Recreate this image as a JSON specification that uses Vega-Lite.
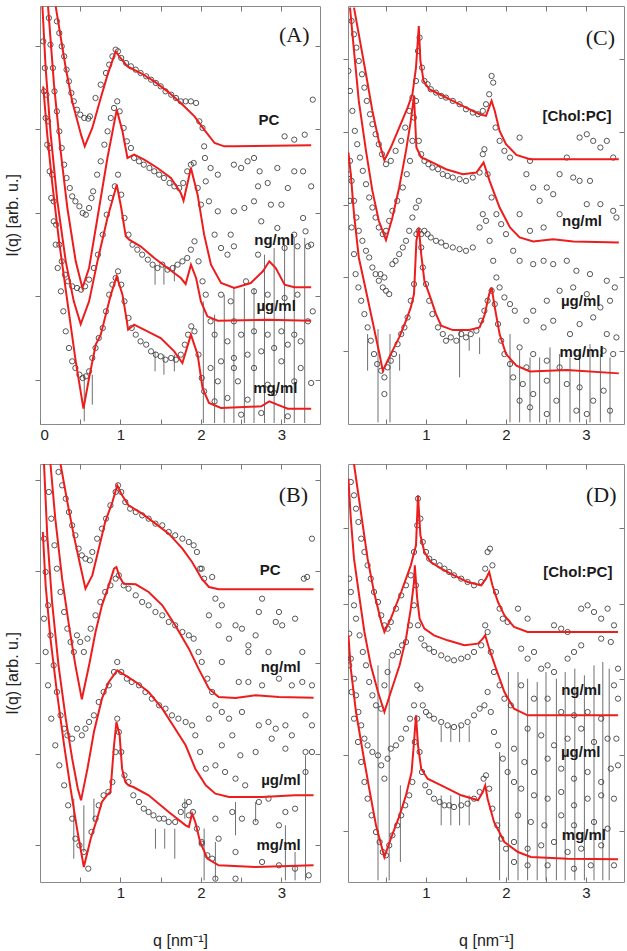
{
  "$schema": "https://vega.github.io/schema/vega-lite/v6.json",
  "padding": {"left": 4, "top": 5, "right": 0, "bottom": 0},
  "background": "white",
  "config": {
    "view": {"stroke": "#8a8a8a", "strokeWidth": 1},
    "axis": {
      "grid": false, "domain": false, "tickColor": "#777777", "tickWidth": 1,
      "labelFont": "Liberation Sans", "labelFontSize": 15, "labelColor": "#222222",
      "titleFont": "Liberation Sans", "titleFontSize": 16, "titleFontWeight": "normal", "titleColor": "#222222"
    }
  },
  "datasets": {
    "fitA": [
      {"c":"PC","q":0.195,"I":12.53},{"c":"PC","q":0.32,"I":10.68},{"c":"PC","q":0.40,"I":9.68},{"c":"PC","q":0.51,"I":8.68},{"c":"PC","q":0.556,"I":8.33},{"c":"PC","q":0.65,"I":8.88},{"c":"PC","q":0.755,"I":9.78},{"c":"PC","q":0.84,"I":10.48},{"c":"PC","q":0.94,"I":11.18},{"c":"PC","q":1.00,"I":10.98},{"c":"PC","q":1.087,"I":10.73},{"c":"PC","q":1.25,"I":10.53},{"c":"PC","q":1.42,"I":10.28},{"c":"PC","q":1.585,"I":9.98},{"c":"PC","q":1.75,"I":9.63},{"c":"PC","q":1.92,"I":9.23},{"c":"PC","q":2.04,"I":8.83},{"c":"PC","q":2.17,"I":8.43},{"c":"PC","q":2.29,"I":8.33},{"c":"PC","q":2.41,"I":8.33},{"c":"PC","q":3.37,"I":8.36},
      {"c":"ng","q":0.10,"I":12.53},{"c":"ng","q":0.174,"I":10.18},{"c":"ng","q":0.257,"I":8.18},{"c":"ng","q":0.34,"I":6.48},{"c":"ng","q":0.444,"I":4.88},{"c":"ng","q":0.527,"I":4.08},{"c":"ng","q":0.61,"I":4.68},{"c":"ng","q":0.714,"I":6.18},{"c":"ng","q":0.838,"I":7.98},{"c":"ng","q":0.954,"I":9.43},{"c":"ng","q":1.025,"I":8.78},{"c":"ng","q":1.087,"I":7.98},{"c":"ng","q":1.17,"I":8.08},{"c":"ng","q":1.295,"I":7.93},{"c":"ng","q":1.46,"I":7.68},{"c":"ng","q":1.627,"I":7.38},{"c":"ng","q":1.75,"I":6.93},{"c":"ng","q":1.784,"I":6.70},{"c":"ng","q":1.876,"I":7.68},{"c":"ng","q":1.959,"I":6.88},{"c":"ng","q":2.04,"I":5.68},{"c":"ng","q":2.125,"I":4.78},{"c":"ng","q":2.25,"I":4.23},{"c":"ng","q":2.415,"I":4.08},{"c":"ng","q":2.62,"I":4.23},{"c":"ng","q":2.77,"I":4.58},{"c":"ng","q":2.85,"I":4.88},{"c":"ng","q":2.93,"I":4.68},{"c":"ng","q":3.04,"I":4.18},{"c":"ng","q":3.16,"I":4.10},{"c":"ng","q":3.37,"I":4.10},
      {"c":"ug","q":0.03,"I":12.53},{"c":"ug","q":0.07,"I":10.68},{"c":"ug","q":0.133,"I":8.68},{"c":"ug","q":0.216,"I":6.68},{"c":"ug","q":0.32,"I":4.88},{"c":"ug","q":0.42,"I":3.68},{"c":"ug","q":0.506,"I":3.00},{"c":"ug","q":0.61,"I":3.68},{"c":"ug","q":0.714,"I":4.88},{"c":"ug","q":0.838,"I":6.18},{"c":"ug","q":0.954,"I":7.18},{"c":"ug","q":1.01,"I":6.48},{"c":"ug","q":1.066,"I":5.63},{"c":"ug","q":1.108,"I":5.53},{"c":"ug","q":1.25,"I":5.33},{"c":"ug","q":1.42,"I":4.98},{"c":"ug","q":1.585,"I":4.68},{"c":"ug","q":1.75,"I":4.38},{"c":"ug","q":1.81,"I":4.20},{"c":"ug","q":1.876,"I":4.78},{"c":"ug","q":1.94,"I":4.38},{"c":"ug","q":2.0,"I":3.68},{"c":"ug","q":2.08,"I":3.23},{"c":"ug","q":2.21,"I":3.10},{"c":"ug","q":2.83,"I":3.13},{"c":"ug","q":3.37,"I":3.10},
      {"c":"mg","q":0.04,"I":10.13},{"c":"mg","q":0.09,"I":8.68},{"c":"mg","q":0.154,"I":7.18},{"c":"mg","q":0.237,"I":5.48},{"c":"mg","q":0.34,"I":3.68},{"c":"mg","q":0.444,"I":1.88},{"c":"mg","q":0.54,"I":0.46},{"c":"mg","q":0.61,"I":1.38},{"c":"mg","q":0.693,"I":2.38},{"c":"mg","q":0.755,"I":2.68},{"c":"mg","q":0.88,"I":3.88},{"c":"mg","q":0.954,"I":4.43},{"c":"mg","q":1.025,"I":3.88},{"c":"mg","q":1.08,"I":3.08},{"c":"mg","q":1.095,"I":2.83},{"c":"mg","q":1.17,"I":2.98},{"c":"mg","q":1.336,"I":2.78},{"c":"mg","q":1.50,"I":2.58},{"c":"mg","q":1.668,"I":2.18},{"c":"mg","q":1.77,"I":1.83},{"c":"mg","q":1.876,"I":2.68},{"c":"mg","q":1.959,"I":2.08},{"c":"mg","q":2.02,"I":1.08},{"c":"mg","q":2.10,"I":0.63},{"c":"mg","q":2.25,"I":0.48},{"c":"mg","q":2.75,"I":0.53},{"c":"mg","q":2.85,"I":0.68},{"c":"mg","q":2.95,"I":0.58},{"c":"mg","q":3.08,"I":0.46},{"c":"mg","q":3.37,"I":0.46}
    ],
    "ptsA": [
      {"q":0.21,"I":12.08},{"q":0.24,"I":11.73},{"q":0.27,"I":11.33},{"q":0.30,"I":11.03},{"q":0.33,"I":10.63},{"q":0.36,"I":10.28},{"q":0.39,"I":9.93},{"q":0.42,"I":9.68},{"q":0.46,"I":9.43},{"q":0.50,"I":9.28},{"q":0.55,"I":9.18},{"q":0.60,"I":9.16},{"q":0.62,"I":9.23},{"q":0.69,"I":9.78},{"q":0.755,"I":10.18},{"q":0.82,"I":10.53},{"q":0.86,"I":10.78},{"q":0.90,"I":11.03},{"q":0.94,"I":11.23},{"q":0.97,"I":11.18},{"q":1.01,"I":10.98},{"q":1.07,"I":10.83},{"q":1.13,"I":10.73},{"q":1.19,"I":10.63},{"q":1.25,"I":10.53},{"q":1.32,"I":10.43},{"q":1.38,"I":10.33},{"q":1.44,"I":10.23},{"q":1.50,"I":10.13},{"q":1.56,"I":9.98},{"q":1.63,"I":9.88},{"q":1.69,"I":9.78},{"q":1.75,"I":9.68},{"q":1.81,"I":9.68},{"q":1.875,"I":9.68},{"q":1.94,"I":9.63},{"q":1.98,"I":9.08},{"q":2.02,"I":8.88},{"q":2.04,"I":8.33},
      {"q":0.11,"I":12.18},{"q":0.13,"I":11.38},{"q":0.16,"I":10.68},{"q":0.18,"I":9.98},{"q":0.21,"I":9.38},{"q":0.24,"I":8.78},{"q":0.27,"I":8.28},{"q":0.30,"I":7.78},{"q":0.33,"I":7.38},{"q":0.37,"I":7.08},{"q":0.40,"I":6.83},{"q":0.44,"I":6.68},{"q":0.49,"I":6.53},{"q":0.53,"I":6.33},{"q":0.57,"I":6.28},{"q":0.61,"I":6.48},{"q":0.64,"I":6.78},{"q":0.66,"I":6.98},{"q":0.71,"I":7.48},{"q":0.755,"I":7.88},{"q":0.80,"I":8.38},{"q":0.84,"I":8.78},{"q":0.88,"I":9.18},{"q":0.92,"I":9.48},{"q":0.96,"I":9.68},{"q":0.99,"I":9.38},{"q":1.04,"I":8.88},{"q":1.08,"I":8.48},{"q":1.13,"I":8.28},{"q":1.17,"I":7.98},{"q":1.23,"I":7.88},{"q":1.29,"I":7.78},{"q":1.36,"I":7.68},{"q":1.42,"I":7.58},{"q":1.48,"I":7.48},{"q":1.54,"I":7.38},{"q":1.61,"I":7.23},{"q":1.67,"I":7.13},{"q":1.73,"I":7.08},{"q":1.78,"I":7.23},{"q":1.83,"I":7.58},{"q":1.875,"I":7.78},{"q":1.91,"I":7.83},{"q":1.96,"I":7.08},{"q":2.00,"I":6.58},
      {"q":0.04,"I":11.48},{"q":0.06,"I":10.68},{"q":0.08,"I":9.88},{"q":0.10,"I":9.08},{"q":0.12,"I":8.28},{"q":0.15,"I":7.48},{"q":0.17,"I":6.68},{"q":0.20,"I":5.98},{"q":0.24,"I":5.38},{"q":0.27,"I":4.88},{"q":0.31,"I":4.48},{"q":0.35,"I":4.28},{"q":0.40,"I":4.13},{"q":0.46,"I":4.08},{"q":0.51,"I":4.03},{"q":0.56,"I":4.13},{"q":0.61,"I":4.33},{"q":0.67,"I":4.68},{"q":0.72,"I":5.08},{"q":0.78,"I":5.68},{"q":0.83,"I":6.28},{"q":0.88,"I":6.78},{"q":0.93,"I":7.13},{"q":0.97,"I":7.48},{"q":1.01,"I":6.88},{"q":1.05,"I":6.18},{"q":1.10,"I":5.68},{"q":1.15,"I":5.38},{"q":1.21,"I":5.23},{"q":1.27,"I":5.08},{"q":1.34,"I":4.93},{"q":1.40,"I":4.78},{"q":1.46,"I":4.68},{"q":1.52,"I":4.78},{"q":1.585,"I":4.63},{"q":1.65,"I":4.68},{"q":1.71,"I":4.78},{"q":1.77,"I":4.88},{"q":1.83,"I":4.98},{"q":1.875,"I":5.23},{"q":1.92,"I":5.48},{"q":1.97,"I":4.88},{"q":2.02,"I":4.28},{"q":2.06,"I":3.88},
      {"q":0.05,"I":9.98},{"q":0.07,"I":9.18},{"q":0.09,"I":8.38},{"q":0.12,"I":7.58},{"q":0.14,"I":6.78},{"q":0.17,"I":6.08},{"q":0.195,"I":5.38},{"q":0.22,"I":4.68},{"q":0.26,"I":3.98},{"q":0.29,"I":3.38},{"q":0.32,"I":2.78},{"q":0.36,"I":2.28},{"q":0.40,"I":1.88},{"q":0.44,"I":1.68},{"q":0.49,"I":1.48},{"q":0.53,"I":1.38},{"q":0.57,"I":1.43},{"q":0.61,"I":1.58},{"q":0.65,"I":1.98},{"q":0.69,"I":2.28},{"q":0.73,"I":2.58},{"q":0.78,"I":2.88},{"q":0.82,"I":3.38},{"q":0.86,"I":3.88},{"q":0.90,"I":4.18},{"q":0.94,"I":4.38},{"q":0.97,"I":4.58},{"q":1.01,"I":4.18},{"q":1.05,"I":3.68},{"q":1.10,"I":3.18},{"q":1.14,"I":2.88},{"q":1.19,"I":2.68},{"q":1.25,"I":2.48},{"q":1.32,"I":2.38},{"q":1.38,"I":2.18},{"q":1.44,"I":2.08},{"q":1.50,"I":2.03},{"q":1.56,"I":1.93},{"q":1.63,"I":1.98},{"q":1.69,"I":1.93},{"q":1.75,"I":2.08},{"q":1.80,"I":2.38},{"q":1.84,"I":2.68},{"q":1.88,"I":2.93},{"q":1.92,"I":2.78},{"q":1.97,"I":2.08},{"q":2.01,"I":1.38},{"q":2.04,"I":0.98},
      {"q":2.05,"I":7.98},{"q":2.12,"I":7.68},{"q":2.06,"I":7.28},{"q":2.10,"I":6.68},{"q":2.21,"I":6.38},{"q":2.17,"I":5.68},{"q":2.25,"I":5.28},{"q":2.33,"I":5.08},{"q":2.41,"I":5.33},{"q":2.37,"I":5.68},{"q":2.21,"I":7.48},{"q":2.41,"I":7.78},{"q":2.50,"I":7.68},{"q":2.58,"I":7.88},{"q":2.66,"I":7.98},{"q":2.73,"I":7.58},{"q":2.71,"I":7.13},{"q":2.83,"I":7.23},{"q":2.95,"I":7.68},{"q":3.04,"I":8.63},{"q":3.16,"I":8.53},{"q":3.29,"I":8.68},{"q":3.39,"I":9.73},{"q":3.16,"I":7.58},{"q":3.27,"I":7.58},{"q":3.37,"I":7.13},{"q":3.08,"I":7.08},{"q":3.00,"I":6.58},{"q":2.87,"I":6.58},{"q":2.66,"I":6.68},{"q":2.54,"I":6.48},{"q":2.41,"I":6.38},{"q":2.75,"I":6.08},{"q":2.95,"I":5.88},{"q":3.27,"I":6.18},{"q":3.16,"I":5.68},{"q":3.30,"I":5.78},{"q":3.37,"I":5.38},{"q":2.71,"I":5.08},{"q":3.04,"I":5.28},{"q":3.20,"I":5.33},{"q":3.33,"I":5.33},{"q":2.56,"I":4.28},{"q":2.66,"I":3.98},{"q":2.83,"I":3.88},{"q":3.04,"I":3.78},{"q":3.20,"I":3.88},{"q":2.25,"I":3.88},{"q":2.37,"I":3.68},{"q":2.41,"I":3.08},{"q":2.12,"I":3.08},{"q":2.17,"I":2.68},{"q":2.33,"I":2.48},{"q":2.50,"I":2.68},{"q":2.66,"I":2.78},{"q":2.83,"I":2.68},{"q":3.00,"I":2.78},{"q":3.16,"I":2.68},{"q":3.33,"I":3.08},{"q":3.39,"I":3.38},{"q":3.24,"I":2.48},{"q":3.08,"I":2.38},{"q":2.91,"I":2.28},{"q":2.75,"I":2.18},{"q":2.58,"I":2.08},{"q":2.41,"I":1.98},{"q":2.25,"I":1.88},{"q":2.12,"I":1.68},{"q":2.41,"I":1.68},{"q":2.66,"I":1.68},{"q":3.00,"I":1.88},{"q":3.24,"I":1.68},{"q":2.21,"I":1.28},{"q":2.46,"I":1.28},{"q":2.83,"I":1.18},{"q":3.16,"I":1.28},{"q":3.37,"I":1.23},{"q":2.33,"I":0.78},{"q":2.58,"I":0.73},{"q":2.91,"I":0.93},{"q":2.50,"I":0.28},{"q":2.75,"I":0.33},{"q":3.08,"I":0.23},{"q":2.17,"I":0.68}
    ],
    "errA": [
      {"q":0.55,"lo":0.08,"hi":1.48},{"q":0.65,"lo":0.58,"hi":1.48},{"q":1.43,"lo":4.18,"hi":4.78},{"q":1.54,"lo":4.18,"hi":4.78},{"q":1.67,"lo":4.28,"hi":4.78},{"q":1.43,"lo":1.58,"hi":2.18},{"q":1.54,"lo":1.48,"hi":2.08},{"q":1.67,"lo":1.58,"hi":2.08},
      {"q":2.03,"lo":0.03,"hi":3.68},{"q":2.17,"lo":0.03,"hi":3.28},{"q":2.29,"lo":0.03,"hi":3.88},{"q":2.41,"lo":0.03,"hi":4.08},{"q":2.54,"lo":0.03,"hi":4.08},{"q":2.66,"lo":0.03,"hi":4.08},{"q":2.79,"lo":0.03,"hi":5.08},{"q":2.91,"lo":0.03,"hi":5.28},{"q":3.04,"lo":0.03,"hi":5.38},{"q":3.16,"lo":0.03,"hi":5.58},{"q":3.29,"lo":0.03,"hi":5.58}
    ],
    "labA": [
      {"q":2.975,"I":9.13,"t":"PC"},{"q":3.16,"I":5.53,"t":"ng/ml"},{"q":3.18,"I":3.53,"t":"µg/ml"},{"q":3.20,"I":1.08,"t":"mg/ml"}
    ],
    "fitC": [
      {"c":"T","q":0.10,"I":12.50},{"c":"T","q":0.16,"I":11.70},{"c":"T","q":0.25,"I":10.50},{"c":"T","q":0.33,"I":9.40},{"c":"T","q":0.41,"I":8.50},{"c":"T","q":0.48,"I":7.92},{"c":"T","q":0.56,"I":8.30},{"c":"T","q":0.665,"I":8.90},{"c":"T","q":0.77,"I":9.50},{"c":"T","q":0.83,"I":9.90},{"c":"T","q":0.875,"I":10.70},{"c":"T","q":0.91,"I":11.95},{"c":"T","q":0.93,"I":10.90},{"c":"T","q":0.97,"I":10.30},{"c":"T","q":1.04,"I":10.05},{"c":"T","q":1.17,"I":9.90},{"c":"T","q":1.335,"I":9.70},{"c":"T","q":1.50,"I":9.50},{"c":"T","q":1.67,"I":9.30},{"c":"T","q":1.75,"I":9.25},{"c":"T","q":1.82,"I":9.70},{"c":"T","q":1.86,"I":9.40},{"c":"T","q":1.92,"I":8.80},{"c":"T","q":2.00,"I":8.40},{"c":"T","q":2.13,"I":8.08},{"c":"T","q":2.30,"I":7.95},{"c":"T","q":3.41,"I":7.95},
      {"c":"ng","q":0.05,"I":12.50},{"c":"ng","q":0.10,"I":11.20},{"c":"ng","q":0.16,"I":9.70},{"c":"ng","q":0.25,"I":8.20},{"c":"ng","q":0.33,"I":7.00},{"c":"ng","q":0.41,"I":6.10},{"c":"ng","q":0.50,"I":5.52},{"c":"ng","q":0.58,"I":6.20},{"c":"ng","q":0.665,"I":7.10},{"c":"ng","q":0.75,"I":8.20},{"c":"ng","q":0.81,"I":9.10},{"c":"ng","q":0.85,"I":9.85},{"c":"ng","q":0.88,"I":8.30},{"c":"ng","q":0.94,"I":8.00},{"c":"ng","q":1.04,"I":7.90},{"c":"ng","q":1.25,"I":7.65},{"c":"ng","q":1.46,"I":7.50},{"c":"ng","q":1.63,"I":7.55},{"c":"ng","q":1.72,"I":7.85},{"c":"ng","q":1.795,"I":7.30},{"c":"ng","q":1.92,"I":6.50},{"c":"ng","q":2.05,"I":5.90},{"c":"ng","q":2.17,"I":5.60},{"c":"ng","q":2.34,"I":5.48},{"c":"ng","q":2.59,"I":5.55},{"c":"ng","q":2.84,"I":5.48},{"c":"ng","q":3.41,"I":5.45},
      {"c":"mg","q":0.03,"I":8.15},{"c":"mg","q":0.06,"I":7.50},{"c":"mg","q":0.10,"I":6.30},{"c":"mg","q":0.16,"I":5.00},{"c":"mg","q":0.25,"I":4.00},{"c":"mg","q":0.33,"I":3.10},{"c":"mg","q":0.41,"I":2.20},{"c":"mg","q":0.46,"I":1.60},{"c":"mg","q":0.54,"I":2.00},{"c":"mg","q":0.665,"I":2.60},{"c":"mg","q":0.75,"I":3.10},{"c":"mg","q":0.81,"I":3.50},{"c":"mg","q":0.85,"I":3.90},{"c":"mg","q":0.88,"I":5.50},{"c":"mg","q":0.91,"I":5.90},{"c":"mg","q":0.94,"I":5.10},{"c":"mg","q":0.98,"I":4.30},{"c":"mg","q":1.04,"I":3.90},{"c":"mg","q":1.125,"I":3.30},{"c":"mg","q":1.19,"I":2.95},{"c":"mg","q":1.335,"I":2.82},{"c":"mg","q":1.54,"I":2.82},{"c":"mg","q":1.67,"I":2.90},{"c":"mg","q":1.73,"I":3.25},{"c":"mg","q":1.79,"I":3.90},{"c":"mg","q":1.82,"I":4.10},{"c":"mg","q":1.86,"I":3.50},{"c":"mg","q":1.92,"I":2.70},{"c":"mg","q":2.00,"I":2.10},{"c":"mg","q":2.13,"I":1.75},{"c":"mg","q":2.30,"I":1.58},{"c":"mg","q":2.76,"I":1.62},{"c":"mg","q":3.41,"I":1.52}
    ],
    "ptsC": [
      {"q":0.07,"I":12.10},{"q":0.10,"I":11.70},{"q":0.13,"I":11.30},{"q":0.16,"I":10.90},{"q":0.20,"I":10.50},{"q":0.23,"I":10.10},{"q":0.26,"I":9.70},{"q":0.30,"I":9.30},{"q":0.33,"I":9.00},{"q":0.37,"I":8.70},{"q":0.41,"I":8.40},{"q":0.45,"I":8.10},{"q":0.50,"I":7.80},{"q":0.56,"I":7.90},{"q":0.62,"I":8.20},{"q":0.69,"I":8.50},{"q":0.74,"I":8.90},{"q":0.79,"I":9.40},{"q":0.83,"I":9.80},{"q":0.875,"I":10.30},{"q":0.90,"I":11.20},{"q":0.92,"I":11.60},{"q":0.95,"I":10.70},{"q":0.98,"I":10.30},{"q":1.02,"I":10.20},{"q":1.06,"I":10.05},{"q":1.125,"I":9.95},{"q":1.19,"I":9.85},{"q":1.25,"I":9.80},{"q":1.335,"I":9.70},{"q":1.42,"I":9.60},{"q":1.50,"I":9.45},{"q":1.585,"I":9.35},{"q":1.65,"I":9.30},{"q":1.71,"I":9.40},{"q":1.75,"I":9.60},{"q":1.79,"I":9.90},{"q":1.82,"I":10.45},{"q":1.84,"I":10.25},{"q":1.87,"I":8.90},{"q":1.92,"I":8.50},{"q":1.98,"I":8.20},{"q":2.05,"I":8.00},
      {"q":0.03,"I":10.60},{"q":0.05,"I":10.00},{"q":0.08,"I":9.40},{"q":0.11,"I":8.80},{"q":0.14,"I":8.40},{"q":0.175,"I":8.00},{"q":0.21,"I":7.60},{"q":0.25,"I":7.20},{"q":0.29,"I":6.80},{"q":0.33,"I":6.50},{"q":0.37,"I":6.20},{"q":0.41,"I":5.90},{"q":0.46,"I":5.70},{"q":0.50,"I":5.80},{"q":0.54,"I":6.10},{"q":0.58,"I":6.40},{"q":0.64,"I":6.70},{"q":0.71,"I":7.10},{"q":0.76,"I":7.50},{"q":0.80,"I":7.90},{"q":0.83,"I":8.50},{"q":0.85,"I":9.20},{"q":0.875,"I":9.70},{"q":0.91,"I":8.50},{"q":0.94,"I":8.10},{"q":0.98,"I":7.90},{"q":1.03,"I":7.80},{"q":1.08,"I":7.70},{"q":1.15,"I":7.65},{"q":1.21,"I":7.50},{"q":1.27,"I":7.45},{"q":1.335,"I":7.40},{"q":1.42,"I":7.35},{"q":1.50,"I":7.30},{"q":1.585,"I":7.40},{"q":1.67,"I":7.55},{"q":1.71,"I":8.10},{"q":1.73,"I":8.25},{"q":1.77,"I":7.50},{"q":1.82,"I":6.80},{"q":1.88,"I":6.30},{"q":1.94,"I":6.00},{"q":2.00,"I":5.70},
      {"q":0.05,"I":7.90},{"q":0.07,"I":7.30},{"q":0.10,"I":6.70},{"q":0.13,"I":6.20},{"q":0.16,"I":5.80},{"q":0.205,"I":5.50},{"q":0.25,"I":5.20},{"q":0.29,"I":5.00},{"q":0.33,"I":4.70},{"q":0.37,"I":4.50},{"q":0.41,"I":4.30},{"q":0.46,"I":4.10},{"q":0.50,"I":4.00},{"q":0.54,"I":3.90},{"q":0.43,"I":4.50},{"q":0.48,"I":4.40},{"q":0.58,"I":4.80},{"q":0.62,"I":4.90},{"q":0.665,"I":5.10},{"q":0.71,"I":5.30},{"q":0.75,"I":5.50},{"q":0.79,"I":5.80},{"q":0.83,"I":6.20},{"q":0.875,"I":6.50},{"q":0.91,"I":6.70},{"q":0.94,"I":5.70},{"q":0.98,"I":5.80},{"q":1.02,"I":5.70},{"q":1.06,"I":5.60},{"q":1.125,"I":5.50},{"q":1.19,"I":5.45},{"q":1.25,"I":5.35},{"q":1.335,"I":5.30},{"q":1.42,"I":5.25},{"q":1.50,"I":5.20},{"q":1.585,"I":5.30},{"q":1.67,"I":5.90},{"q":1.71,"I":6.30},{"q":1.75,"I":6.10},{"q":1.795,"I":5.50},{"q":1.84,"I":4.90},{"q":1.88,"I":4.40},{"q":1.92,"I":4.10},{"q":1.98,"I":3.80},{"q":2.05,"I":3.60},{"q":2.11,"I":3.40},
      {"q":0.03,"I":7.50},{"q":0.05,"I":6.70},{"q":0.07,"I":5.90},{"q":0.10,"I":5.10},{"q":0.12,"I":4.50},{"q":0.155,"I":4.10},{"q":0.19,"I":3.70},{"q":0.23,"I":3.30},{"q":0.27,"I":2.90},{"q":0.31,"I":2.50},{"q":0.35,"I":2.10},{"q":0.39,"I":1.80},{"q":0.44,"I":1.60},{"q":0.48,"I":1.40},{"q":0.48,"I":0.90},{"q":0.52,"I":1.70},{"q":0.56,"I":1.90},{"q":0.60,"I":2.10},{"q":0.645,"I":2.40},{"q":0.69,"I":2.70},{"q":0.73,"I":2.90},{"q":0.77,"I":3.20},{"q":0.81,"I":3.70},{"q":0.85,"I":4.20},{"q":0.88,"I":5.70},{"q":0.91,"I":5.80},{"q":0.94,"I":5.30},{"q":0.96,"I":4.70},{"q":1.00,"I":4.20},{"q":1.04,"I":3.70},{"q":1.08,"I":3.30},{"q":1.15,"I":2.90},{"q":1.21,"I":2.70},{"q":1.25,"I":2.50},{"q":1.31,"I":2.60},{"q":1.38,"I":2.50},{"q":1.44,"I":2.70},{"q":1.50,"I":2.60},{"q":1.56,"I":2.70},{"q":1.63,"I":2.80},{"q":1.69,"I":3.10},{"q":1.73,"I":3.40},{"q":1.77,"I":3.70},{"q":1.82,"I":4.00},{"q":1.86,"I":3.60},{"q":1.90,"I":3.00},{"q":1.94,"I":2.50},{"q":1.98,"I":2.10},{"q":2.05,"I":1.80},
      {"q":2.17,"I":8.60},{"q":2.30,"I":7.90},{"q":2.255,"I":7.50},{"q":2.34,"I":7.10},{"q":2.42,"I":6.70},{"q":2.51,"I":7.10},{"q":2.59,"I":6.90},{"q":2.67,"I":7.50},{"q":2.76,"I":8.00},{"q":2.92,"I":8.60},{"q":3.01,"I":8.70},{"q":3.09,"I":8.50},{"q":3.18,"I":8.30},{"q":3.26,"I":8.50},{"q":3.34,"I":8.00},{"q":3.05,"I":7.30},{"q":2.92,"I":7.30},{"q":2.84,"I":7.40},{"q":3.18,"I":6.60},{"q":3.34,"I":6.40},{"q":3.38,"I":6.20},{"q":3.01,"I":6.60},{"q":2.67,"I":6.30},{"q":2.47,"I":5.90},{"q":2.30,"I":5.80},{"q":2.17,"I":6.30},{"q":2.09,"I":5.20},{"q":2.17,"I":4.90},{"q":2.34,"I":4.80},{"q":2.47,"I":4.90},{"q":2.59,"I":4.80},{"q":2.76,"I":4.90},{"q":2.88,"I":4.60},{"q":3.05,"I":4.50},{"q":3.26,"I":4.30},{"q":3.36,"I":4.10},{"q":3.30,"I":3.70},{"q":3.18,"I":3.50},{"q":3.01,"I":3.90},{"q":2.84,"I":4.10},{"q":2.67,"I":4.00},{"q":2.51,"I":3.70},{"q":2.34,"I":3.40},{"q":2.255,"I":3.10},{"q":2.47,"I":2.90},{"q":2.59,"I":3.10},{"q":2.80,"I":2.70},{"q":2.92,"I":3.00},{"q":3.09,"I":3.20},{"q":3.26,"I":2.70},{"q":3.38,"I":2.60},{"q":3.34,"I":2.10},{"q":3.22,"I":2.20},{"q":2.17,"I":2.30},{"q":2.34,"I":2.10},{"q":2.51,"I":1.90},{"q":2.67,"I":1.70},{"q":2.255,"I":1.70},{"q":2.09,"I":1.40},{"q":2.21,"I":1.20},{"q":2.34,"I":0.90},{"q":2.51,"I":1.30},{"q":2.63,"I":0.70},{"q":2.76,"I":1.20},{"q":2.92,"I":1.10},{"q":3.09,"I":0.70},{"q":3.22,"I":1.00},{"q":3.30,"I":0.40},{"q":3.01,"I":0.30},{"q":2.51,"I":0.30},{"q":2.30,"I":0.50},{"q":2.17,"I":0.70},{"q":2.88,"I":0.40}
    ],
    "errC": [
      {"q":0.27,"lo":1.60,"hi":2.70},{"q":0.40,"lo":0.05,"hi":2.85},{"q":0.55,"lo":0.05,"hi":2.70},{"q":0.67,"lo":1.60,"hi":2.10},{"q":1.42,"lo":1.40,"hi":2.80},{"q":1.54,"lo":2.20,"hi":2.60},{"q":1.67,"lo":2.10,"hi":2.60},
      {"q":2.05,"lo":0.05,"hi":2.70},{"q":2.17,"lo":0.05,"hi":2.20},{"q":2.30,"lo":0.05,"hi":2.00},{"q":2.42,"lo":0.05,"hi":2.00},{"q":2.55,"lo":0.05,"hi":2.30},{"q":2.67,"lo":0.05,"hi":2.10},{"q":2.80,"lo":0.05,"hi":2.00},{"q":2.92,"lo":0.05,"hi":2.10},{"q":3.05,"lo":0.05,"hi":2.40},{"q":3.18,"lo":0.05,"hi":2.10},{"q":3.30,"lo":0.05,"hi":2.00}
    ],
    "labC": [
      {"q":3.32,"I":9.25,"t":"[Chol:PC]"},{"q":3.20,"I":6.10,"t":"ng/ml"},{"q":3.18,"I":3.70,"t":"µg/ml"},{"q":3.22,"I":2.15,"t":"mg/ml"}
    ],
    "fitB": [
      {"c":"PC","q":0.255,"I":12.54},{"c":"PC","q":0.34,"I":11.40},{"c":"PC","q":0.42,"I":10.40},{"c":"PC","q":0.50,"I":9.50},{"c":"PC","q":0.565,"I":8.80},{"c":"PC","q":0.65,"I":9.20},{"c":"PC","q":0.73,"I":10.00},{"c":"PC","q":0.81,"I":10.80},{"c":"PC","q":0.90,"I":11.40},{"c":"PC","q":0.96,"I":11.90},{"c":"PC","q":1.02,"I":11.60},{"c":"PC","q":1.10,"I":11.30},{"c":"PC","q":1.27,"I":11.05},{"c":"PC","q":1.435,"I":10.75},{"c":"PC","q":1.60,"I":10.45},{"c":"PC","q":1.77,"I":10.00},{"c":"PC","q":1.89,"I":9.60},{"c":"PC","q":2.01,"I":9.10},{"c":"PC","q":2.10,"I":8.85},{"c":"PC","q":2.22,"I":8.78},{"c":"PC","q":3.40,"I":8.78},
      {"c":"ng","q":0.13,"I":12.54},{"c":"ng","q":0.19,"I":10.90},{"c":"ng","q":0.275,"I":9.10},{"c":"ng","q":0.36,"I":7.70},{"c":"ng","q":0.44,"I":6.50},{"c":"ng","q":0.52,"I":5.48},{"c":"ng","q":0.61,"I":6.50},{"c":"ng","q":0.69,"I":7.50},{"c":"ng","q":0.77,"I":8.30},{"c":"ng","q":0.855,"I":8.90},{"c":"ng","q":0.92,"I":9.40},{"c":"ng","q":0.95,"I":9.45},{"c":"ng","q":0.99,"I":9.15},{"c":"ng","q":1.04,"I":8.95},{"c":"ng","q":1.19,"I":8.93},{"c":"ng","q":1.35,"I":8.70},{"c":"ng","q":1.52,"I":8.30},{"c":"ng","q":1.68,"I":7.70},{"c":"ng","q":1.85,"I":7.00},{"c":"ng","q":1.97,"I":6.40},{"c":"ng","q":2.10,"I":5.80},{"c":"ng","q":2.22,"I":5.55},{"c":"ng","q":2.43,"I":5.52},{"c":"ng","q":2.68,"I":5.60},{"c":"ng","q":2.97,"I":5.55},{"c":"ng","q":3.40,"I":5.53},
      {"c":"ug","q":0.05,"I":12.54},{"c":"ug","q":0.09,"I":10.40},{"c":"ug","q":0.15,"I":8.40},{"c":"ug","q":0.23,"I":6.50},{"c":"ug","q":0.32,"I":4.90},{"c":"ug","q":0.40,"I":3.70},{"c":"ug","q":0.47,"I":2.80},{"c":"ug","q":0.51,"I":2.45},{"c":"ug","q":0.59,"I":3.40},{"c":"ug","q":0.67,"I":4.50},{"c":"ug","q":0.77,"I":5.50},{"c":"ug","q":0.855,"I":6.00},{"c":"ug","q":0.96,"I":6.35},{"c":"ug","q":1.06,"I":6.20},{"c":"ug","q":1.19,"I":6.00},{"c":"ug","q":1.35,"I":5.70},{"c":"ug","q":1.52,"I":5.20},{"c":"ug","q":1.68,"I":4.60},{"c":"ug","q":1.81,"I":4.10},{"c":"ug","q":1.93,"I":3.40},{"c":"ug","q":2.06,"I":2.90},{"c":"ug","q":2.18,"I":2.65},{"c":"ug","q":2.35,"I":2.55},{"c":"ug","q":2.76,"I":2.55},{"c":"ug","q":3.17,"I":2.60},{"c":"ug","q":3.40,"I":2.60},
      {"c":"mg","q":0.035,"I":10.50},{"c":"mg","q":0.07,"I":8.90},{"c":"mg","q":0.13,"I":7.30},{"c":"mg","q":0.21,"I":5.70},{"c":"mg","q":0.30,"I":4.10},{"c":"mg","q":0.38,"I":2.80},{"c":"mg","q":0.46,"I":1.60},{"c":"mg","q":0.545,"I":0.45},{"c":"mg","q":0.63,"I":1.30},{"c":"mg","q":0.71,"I":1.90},{"c":"mg","q":0.77,"I":2.40},{"c":"mg","q":0.83,"I":2.60},{"c":"mg","q":0.875,"I":2.70},{"c":"mg","q":0.92,"I":4.10},{"c":"mg","q":0.95,"I":4.80},{"c":"mg","q":0.99,"I":4.40},{"c":"mg","q":1.02,"I":3.40},{"c":"mg","q":1.06,"I":3.00},{"c":"mg","q":1.10,"I":2.90},{"c":"mg","q":1.16,"I":2.85},{"c":"mg","q":1.35,"I":2.60},{"c":"mg","q":1.60,"I":2.10},{"c":"mg","q":1.81,"I":1.70},{"c":"mg","q":1.85,"I":1.65},{"c":"mg","q":1.89,"I":2.05},{"c":"mg","q":1.93,"I":1.80},{"c":"mg","q":1.99,"I":1.20},{"c":"mg","q":2.08,"I":0.70},{"c":"mg","q":2.22,"I":0.50},{"c":"mg","q":2.68,"I":0.45},{"c":"mg","q":3.40,"I":0.50}
    ],
    "ptsB": [
      {"q":0.23,"I":12.30},{"q":0.275,"I":11.90},{"q":0.32,"I":11.50},{"q":0.36,"I":11.10},{"q":0.40,"I":10.70},{"q":0.44,"I":10.40},{"q":0.48,"I":10.00},{"q":0.52,"I":9.80},{"q":0.565,"I":9.70},{"q":0.62,"I":9.65},{"q":0.65,"I":9.90},{"q":0.71,"I":10.30},{"q":0.77,"I":10.60},{"q":0.82,"I":10.90},{"q":0.875,"I":11.30},{"q":0.94,"I":11.70},{"q":0.97,"I":11.90},{"q":1.01,"I":11.70},{"q":1.06,"I":11.40},{"q":1.12,"I":11.20},{"q":1.19,"I":11.10},{"q":1.27,"I":11.00},{"q":1.35,"I":10.90},{"q":1.435,"I":10.75},{"q":1.52,"I":10.70},{"q":1.60,"I":10.50},{"q":1.68,"I":10.40},{"q":1.77,"I":10.30},{"q":1.85,"I":10.20},{"q":1.91,"I":10.10},{"q":1.95,"I":9.90},{"q":1.99,"I":9.40},{"q":2.04,"I":9.10},
      {"q":0.11,"I":11.70},{"q":0.14,"I":10.90},{"q":0.18,"I":10.10},{"q":0.21,"I":9.40},{"q":0.255,"I":8.70},{"q":0.30,"I":8.10},{"q":0.34,"I":7.60},{"q":0.38,"I":7.20},{"q":0.42,"I":6.90},{"q":0.46,"I":7.40},{"q":0.50,"I":7.20},{"q":0.545,"I":6.90},{"q":0.59,"I":7.30},{"q":0.63,"I":7.60},{"q":0.69,"I":8.00},{"q":0.75,"I":8.40},{"q":0.81,"I":8.70},{"q":0.875,"I":8.90},{"q":0.94,"I":9.10},{"q":0.98,"I":9.20},{"q":1.04,"I":8.90},{"q":1.10,"I":8.80},{"q":1.19,"I":8.60},{"q":1.27,"I":8.40},{"q":1.35,"I":8.30},{"q":1.435,"I":8.10},{"q":1.52,"I":8.00},{"q":1.60,"I":7.80},{"q":1.68,"I":7.70},{"q":1.77,"I":7.50},{"q":1.85,"I":7.40},{"q":1.91,"I":7.30},{"q":1.97,"I":6.90},{"q":2.01,"I":6.60},{"q":2.08,"I":6.10},{"q":2.14,"I":5.70},
      {"q":0.05,"I":10.30},{"q":0.07,"I":9.30},{"q":0.10,"I":8.30},{"q":0.13,"I":7.40},{"q":0.17,"I":6.50},{"q":0.21,"I":5.70},{"q":0.255,"I":5.00},{"q":0.30,"I":4.60},{"q":0.34,"I":4.40},{"q":0.40,"I":4.30},{"q":0.46,"I":4.60},{"q":0.52,"I":4.40},{"q":0.565,"I":4.60},{"q":0.61,"I":4.80},{"q":0.67,"I":5.00},{"q":0.73,"I":5.40},{"q":0.79,"I":5.70},{"q":0.855,"I":5.90},{"q":0.92,"I":6.30},{"q":0.96,"I":6.60},{"q":1.01,"I":6.30},{"q":1.08,"I":6.10},{"q":1.14,"I":6.00},{"q":1.23,"I":5.90},{"q":1.31,"I":5.70},{"q":1.39,"I":5.50},{"q":1.48,"I":5.30},{"q":1.56,"I":5.20},{"q":1.64,"I":5.00},{"q":1.72,"I":4.90},{"q":1.81,"I":4.80},{"q":1.89,"I":4.70},{"q":1.93,"I":4.40},{"q":1.99,"I":3.90},{"q":2.06,"I":3.40},
      {"q":0.05,"I":7.90},{"q":0.07,"I":6.90},{"q":0.10,"I":5.90},{"q":0.14,"I":4.90},{"q":0.19,"I":4.10},{"q":0.24,"I":3.50},{"q":0.30,"I":2.90},{"q":0.35,"I":2.30},{"q":0.40,"I":1.90},{"q":0.44,"I":1.30},{"q":0.49,"I":1.10},{"q":0.545,"I":0.90},{"q":0.60,"I":0.40},{"q":0.64,"I":1.50},{"q":0.69,"I":1.90},{"q":0.73,"I":2.30},{"q":0.79,"I":2.60},{"q":0.85,"I":2.70},{"q":0.90,"I":3.00},{"q":0.94,"I":3.90},{"q":0.96,"I":4.90},{"q":0.98,"I":4.50},{"q":1.01,"I":3.90},{"q":1.05,"I":3.20},{"q":1.10,"I":3.00},{"q":1.16,"I":2.60},{"q":1.23,"I":2.40},{"q":1.29,"I":2.20},{"q":1.35,"I":2.10},{"q":1.41,"I":2.00},{"q":1.48,"I":1.90},{"q":1.54,"I":1.90},{"q":1.60,"I":1.80},{"q":1.68,"I":1.80},{"q":1.75,"I":2.10},{"q":1.80,"I":2.30},{"q":1.85,"I":2.00},{"q":1.90,"I":2.10},{"q":1.95,"I":1.60},{"q":2.01,"I":1.20},{"q":2.08,"I":0.80},
      {"q":2.01,"I":9.40},{"q":2.14,"I":9.15},{"q":2.18,"I":8.50},{"q":2.26,"I":8.30},{"q":2.10,"I":8.00},{"q":2.22,"I":7.70},{"q":2.35,"I":7.30},{"q":2.43,"I":7.70},{"q":2.51,"I":7.60},{"q":2.59,"I":7.10},{"q":2.68,"I":7.40},{"q":2.72,"I":8.10},{"q":2.76,"I":8.50},{"q":2.97,"I":8.10},{"q":2.93,"I":7.80},{"q":3.01,"I":7.70},{"q":3.17,"I":7.90},{"q":3.28,"I":9.10},{"q":3.32,"I":9.15},{"q":3.38,"I":10.30},{"q":3.26,"I":6.90},{"q":2.59,"I":6.90},{"q":2.84,"I":6.90},{"q":2.26,"I":6.60},{"q":2.47,"I":6.00},{"q":2.59,"I":6.00},{"q":2.76,"I":5.90},{"q":2.97,"I":6.10},{"q":3.13,"I":5.90},{"q":3.26,"I":6.00},{"q":3.38,"I":5.90},{"q":2.18,"I":5.30},{"q":2.26,"I":5.10},{"q":2.10,"I":4.90},{"q":2.35,"I":4.90},{"q":2.51,"I":5.10},{"q":2.72,"I":4.70},{"q":2.84,"I":4.80},{"q":2.93,"I":4.60},{"q":3.05,"I":4.70},{"q":3.13,"I":4.40},{"q":3.30,"I":5.00},{"q":3.38,"I":4.70},{"q":2.26,"I":4.10},{"q":2.39,"I":4.40},{"q":2.49,"I":3.80},{"q":2.68,"I":3.90},{"q":2.88,"I":4.30},{"q":3.05,"I":4.00},{"q":3.30,"I":3.90},{"q":3.38,"I":3.90},{"q":2.18,"I":3.50},{"q":2.30,"I":3.30},{"q":2.43,"I":3.10},{"q":2.55,"I":2.90},{"q":2.72,"I":2.40},{"q":2.84,"I":2.50},{"q":3.05,"I":2.10},{"q":3.17,"I":2.20},{"q":3.30,"I":3.30},{"q":2.39,"I":2.10},{"q":2.18,"I":1.90},{"q":2.51,"I":1.90},{"q":2.68,"I":1.80},{"q":2.97,"I":1.70},{"q":2.22,"I":1.30},{"q":2.43,"I":0.90},{"q":2.76,"I":0.60},{"q":2.97,"I":0.50},{"q":3.17,"I":0.40},{"q":3.34,"I":0.20},{"q":2.18,"I":0.10},{"q":2.43,"I":0.10},{"q":2.01,"I":1.15},{"q":2.14,"I":0.70},{"q":1.85,"I":2.40}
    ],
    "errB": [
      {"q":0.42,"lo":0.70,"hi":2.50},{"q":0.545,"lo":0.90,"hi":2.30},{"q":0.67,"lo":1.80,"hi":2.50},{"q":1.435,"lo":1.00,"hi":1.60},{"q":1.55,"lo":1.00,"hi":1.60},{"q":1.675,"lo":0.70,"hi":1.60},{"q":1.80,"lo":1.90,"hi":2.50},
      {"q":2.04,"lo":0.05,"hi":1.60},{"q":2.18,"lo":0.05,"hi":1.20},{"q":2.43,"lo":1.40,"hi":2.40},{"q":2.68,"lo":1.80,"hi":2.40},{"q":3.05,"lo":0.05,"hi":1.70},{"q":3.17,"lo":0.05,"hi":0.90},{"q":3.30,"lo":0.05,"hi":3.80}
    ],
    "labB": [
      {"q":2.99,"I":9.35,"t":"PC"},{"q":3.24,"I":6.45,"t":"ng/ml"},{"q":3.24,"I":3.05,"t":"µg/ml"},{"q":3.24,"I":1.10,"t":"mg/ml"}
    ],
    "fitD": [
      {"c":"T","q":0.10,"I":12.54},{"c":"T","q":0.15,"I":11.70},{"c":"T","q":0.21,"I":10.70},{"c":"T","q":0.27,"I":9.70},{"c":"T","q":0.35,"I":8.70},{"c":"T","q":0.44,"I":7.80},{"c":"T","q":0.48,"I":7.50},{"c":"T","q":0.56,"I":7.90},{"c":"T","q":0.69,"I":8.70},{"c":"T","q":0.81,"I":9.50},{"c":"T","q":0.875,"I":10.10},{"c":"T","q":0.90,"I":11.60},{"c":"T","q":0.93,"I":10.40},{"c":"T","q":0.98,"I":9.90},{"c":"T","q":1.06,"I":9.60},{"c":"T","q":1.19,"I":9.40},{"c":"T","q":1.35,"I":9.20},{"c":"T","q":1.52,"I":9.00},{"c":"T","q":1.69,"I":8.90},{"c":"T","q":1.75,"I":9.10},{"c":"T","q":1.79,"I":9.30},{"c":"T","q":1.83,"I":8.90},{"c":"T","q":1.90,"I":8.40},{"c":"T","q":1.98,"I":8.00},{"c":"T","q":2.10,"I":7.65},{"c":"T","q":2.27,"I":7.50},{"c":"T","q":3.40,"I":7.50},
      {"c":"ng","q":0.03,"I":12.10},{"c":"ng","q":0.06,"I":10.90},{"c":"ng","q":0.10,"I":9.70},{"c":"ng","q":0.17,"I":8.50},{"c":"ng","q":0.23,"I":7.50},{"c":"ng","q":0.31,"I":6.50},{"c":"ng","q":0.40,"I":5.70},{"c":"ng","q":0.48,"I":5.10},{"c":"ng","q":0.56,"I":5.70},{"c":"ng","q":0.67,"I":6.50},{"c":"ng","q":0.75,"I":7.30},{"c":"ng","q":0.81,"I":8.20},{"c":"ng","q":0.85,"I":9.00},{"c":"ng","q":0.86,"I":9.50},{"c":"ng","q":0.89,"I":8.50},{"c":"ng","q":0.92,"I":7.90},{"c":"ng","q":0.98,"I":7.60},{"c":"ng","q":1.10,"I":7.40},{"c":"ng","q":1.27,"I":7.25},{"c":"ng","q":1.48,"I":7.10},{"c":"ng","q":1.65,"I":7.15},{"c":"ng","q":1.71,"I":7.30},{"c":"ng","q":1.74,"I":7.40},{"c":"ng","q":1.79,"I":7.00},{"c":"ng","q":1.875,"I":6.40},{"c":"ng","q":1.98,"I":5.70},{"c":"ng","q":2.10,"I":5.20},{"c":"ng","q":2.27,"I":5.00},{"c":"ng","q":2.52,"I":5.00},{"c":"ng","q":3.40,"I":5.00},
      {"c":"mg","q":0.03,"I":7.40},{"c":"mg","q":0.06,"I":6.40},{"c":"mg","q":0.125,"I":5.10},{"c":"mg","q":0.21,"I":3.90},{"c":"mg","q":0.29,"I":2.80},{"c":"mg","q":0.375,"I":1.70},{"c":"mg","q":0.48,"I":0.75},{"c":"mg","q":0.56,"I":1.30},{"c":"mg","q":0.67,"I":2.00},{"c":"mg","q":0.75,"I":2.60},{"c":"mg","q":0.82,"I":3.30},{"c":"mg","q":0.85,"I":4.20},{"c":"mg","q":0.875,"I":5.00},{"c":"mg","q":0.90,"I":4.10},{"c":"mg","q":0.94,"I":3.40},{"c":"mg","q":1.02,"I":3.10},{"c":"mg","q":1.19,"I":2.90},{"c":"mg","q":1.44,"I":2.60},{"c":"mg","q":1.65,"I":2.45},{"c":"mg","q":1.71,"I":2.70},{"c":"mg","q":1.74,"I":2.90},{"c":"mg","q":1.77,"I":2.50},{"c":"mg","q":1.85,"I":1.80},{"c":"mg","q":1.98,"I":1.20},{"c":"mg","q":2.15,"I":0.90},{"c":"mg","q":2.31,"I":0.75},{"c":"mg","q":2.77,"I":0.70},{"c":"mg","q":3.40,"I":0.68}
    ],
    "ptsD": [
      {"q":0.06,"I":12.00},{"q":0.10,"I":11.60},{"q":0.125,"I":11.20},{"q":0.155,"I":10.80},{"q":0.19,"I":10.30},{"q":0.23,"I":9.90},{"q":0.27,"I":9.50},{"q":0.31,"I":9.10},{"q":0.35,"I":8.70},{"q":0.40,"I":8.40},{"q":0.44,"I":8.00},{"q":0.48,"I":7.70},{"q":0.52,"I":7.60},{"q":0.56,"I":7.80},{"q":0.625,"I":8.20},{"q":0.69,"I":8.60},{"q":0.75,"I":8.90},{"q":0.81,"I":9.20},{"q":0.85,"I":9.90},{"q":0.89,"I":10.70},{"q":0.90,"I":11.50},{"q":0.93,"I":10.90},{"q":0.96,"I":10.20},{"q":1.00,"I":9.90},{"q":1.04,"I":9.70},{"q":1.10,"I":9.60},{"q":1.17,"I":9.50},{"q":1.23,"I":9.40},{"q":1.29,"I":9.30},{"q":1.35,"I":9.20},{"q":1.44,"I":9.10},{"q":1.52,"I":9.00},{"q":1.60,"I":8.90},{"q":1.69,"I":9.00},{"q":1.74,"I":9.40},{"q":1.77,"I":9.90},{"q":1.80,"I":10.00},{"q":1.83,"I":9.50},{"q":1.875,"I":8.70},{"q":1.92,"I":8.20},{"q":1.96,"I":7.90},{"q":2.02,"I":7.80},
      {"q":0.04,"I":9.10},{"q":0.06,"I":8.70},{"q":0.10,"I":8.30},{"q":0.125,"I":7.90},{"q":0.17,"I":7.40},{"q":0.21,"I":6.90},{"q":0.25,"I":6.50},{"q":0.29,"I":6.00},{"q":0.33,"I":5.60},{"q":0.375,"I":5.30},{"q":0.44,"I":5.20},{"q":0.48,"I":5.90},{"q":0.52,"I":6.30},{"q":0.58,"I":6.80},{"q":0.65,"I":6.90},{"q":0.70,"I":7.10},{"q":0.75,"I":7.20},{"q":0.80,"I":7.70},{"q":0.85,"I":8.30},{"q":0.875,"I":8.90},{"q":0.90,"I":7.70},{"q":0.94,"I":7.30},{"q":0.98,"I":7.10},{"q":1.04,"I":7.00},{"q":1.10,"I":6.90},{"q":1.19,"I":6.80},{"q":1.27,"I":6.70},{"q":1.35,"I":6.65},{"q":1.44,"I":6.70},{"q":1.52,"I":6.75},{"q":1.60,"I":6.90},{"q":1.69,"I":7.10},{"q":1.74,"I":7.70},{"q":1.77,"I":7.50},{"q":1.81,"I":6.90},{"q":1.85,"I":6.30},{"q":1.92,"I":5.90},{"q":1.98,"I":5.50},{"q":2.06,"I":5.30},
      {"q":0.04,"I":7.45},{"q":0.06,"I":6.70},{"q":0.10,"I":6.10},{"q":0.125,"I":5.60},{"q":0.155,"I":5.10},{"q":0.19,"I":4.70},{"q":0.23,"I":4.30},{"q":0.27,"I":4.10},{"q":0.33,"I":3.90},{"q":0.40,"I":3.80},{"q":0.44,"I":3.50},{"q":0.48,"I":3.10},{"q":0.52,"I":3.70},{"q":0.56,"I":4.00},{"q":0.625,"I":4.10},{"q":0.69,"I":4.30},{"q":0.75,"I":4.60},{"q":0.80,"I":4.90},{"q":0.85,"I":5.30},{"q":0.89,"I":5.90},{"q":0.93,"I":5.80},{"q":0.96,"I":5.30},{"q":1.00,"I":5.10},{"q":1.04,"I":5.00},{"q":1.10,"I":4.90},{"q":1.19,"I":4.80},{"q":1.27,"I":4.70},{"q":1.35,"I":4.65},{"q":1.44,"I":4.70},{"q":1.52,"I":4.80},{"q":1.60,"I":5.00},{"q":1.67,"I":5.20},{"q":1.73,"I":5.30},{"q":1.77,"I":5.70},{"q":1.81,"I":5.10},{"q":1.85,"I":4.50},{"q":1.90,"I":4.10},{"q":1.96,"I":3.70},{"q":2.02,"I":3.30},{"q":2.10,"I":3.00},
      {"q":0.04,"I":6.50},{"q":0.07,"I":5.70},{"q":0.10,"I":4.90},{"q":0.15,"I":4.20},{"q":0.19,"I":3.60},{"q":0.23,"I":3.00},{"q":0.27,"I":2.50},{"q":0.32,"I":2.00},{"q":0.375,"I":1.50},{"q":0.42,"I":1.20},{"q":0.46,"I":0.90},{"q":0.50,"I":0.80},{"q":0.54,"I":1.10},{"q":0.58,"I":1.40},{"q":0.64,"I":1.70},{"q":0.69,"I":2.00},{"q":0.74,"I":2.30},{"q":0.79,"I":2.60},{"q":0.83,"I":3.00},{"q":0.86,"I":4.20},{"q":0.89,"I":4.90},{"q":0.92,"I":3.90},{"q":0.95,"I":3.30},{"q":0.99,"I":2.90},{"q":1.04,"I":2.70},{"q":1.10,"I":2.50},{"q":1.17,"I":2.40},{"q":1.23,"I":2.30},{"q":1.29,"I":2.30},{"q":1.35,"I":2.25},{"q":1.44,"I":2.30},{"q":1.52,"I":2.35},{"q":1.60,"I":2.50},{"q":1.67,"I":2.70},{"q":1.72,"I":3.10},{"q":1.75,"I":3.20},{"q":1.79,"I":2.80},{"q":1.83,"I":2.20},{"q":1.89,"I":1.70},{"q":1.94,"I":1.30},{"q":2.00,"I":1.00},
      {"q":2.15,"I":8.20},{"q":2.27,"I":7.90},{"q":2.19,"I":7.00},{"q":2.27,"I":6.70},{"q":2.35,"I":6.90},{"q":2.44,"I":6.40},{"q":2.52,"I":6.50},{"q":2.60,"I":7.70},{"q":2.69,"I":7.60},{"q":2.77,"I":7.50},{"q":2.85,"I":6.90},{"q":2.94,"I":7.10},{"q":2.94,"I":8.20},{"q":3.02,"I":8.30},{"q":3.10,"I":8.10},{"q":3.19,"I":7.90},{"q":3.27,"I":8.20},{"q":3.35,"I":7.70},{"q":3.19,"I":7.30},{"q":3.31,"I":7.20},{"q":3.40,"I":6.40},{"q":2.77,"I":6.70},{"q":2.60,"I":6.30},{"q":2.19,"I":5.90},{"q":2.35,"I":5.50},{"q":2.52,"I":5.50},{"q":2.69,"I":5.10},{"q":2.85,"I":5.00},{"q":3.02,"I":5.10},{"q":3.19,"I":4.90},{"q":3.35,"I":5.90},{"q":3.40,"I":5.50},{"q":2.27,"I":4.60},{"q":2.44,"I":4.40},{"q":2.60,"I":4.10},{"q":2.77,"I":4.30},{"q":2.94,"I":4.60},{"q":3.10,"I":4.20},{"q":3.27,"I":4.30},{"q":3.38,"I":4.30},{"q":2.10,"I":4.00},{"q":2.23,"I":3.60},{"q":2.35,"I":3.30},{"q":2.52,"I":3.70},{"q":2.69,"I":3.40},{"q":2.85,"I":3.10},{"q":3.02,"I":3.30},{"q":3.19,"I":3.00},{"q":3.31,"I":3.40},{"q":3.40,"I":3.50},{"q":2.19,"I":2.80},{"q":2.35,"I":2.60},{"q":2.52,"I":2.50},{"q":2.69,"I":2.70},{"q":2.85,"I":2.30},{"q":3.02,"I":2.50},{"q":3.19,"I":2.60},{"q":3.35,"I":2.50},{"q":2.15,"I":2.00},{"q":2.31,"I":1.80},{"q":2.48,"I":1.70},{"q":2.69,"I":2.00},{"q":2.85,"I":1.70},{"q":3.10,"I":1.80},{"q":3.27,"I":1.60},{"q":2.10,"I":1.20},{"q":2.27,"I":1.00},{"q":2.44,"I":1.10},{"q":2.60,"I":1.20},{"q":2.77,"I":0.90},{"q":2.94,"I":1.00},{"q":3.19,"I":1.10},{"q":3.35,"I":0.50},{"q":2.52,"I":0.50},{"q":2.27,"I":0.50},{"q":2.85,"I":0.40},{"q":3.06,"I":0.50},{"q":2.10,"I":0.60}
    ],
    "errD": [
      {"q":0.40,"lo":0.05,"hi":6.50},{"q":0.54,"lo":0.05,"hi":6.70},{"q":0.68,"lo":0.60,"hi":2.90},
      {"q":1.19,"lo":4.20,"hi":4.70},{"q":1.31,"lo":4.20,"hi":4.70},{"q":1.42,"lo":4.20,"hi":4.70},{"q":1.54,"lo":4.20,"hi":4.70},
      {"q":1.19,"lo":1.70,"hi":2.60},{"q":1.31,"lo":1.70,"hi":2.60},{"q":1.42,"lo":1.70,"hi":2.60},{"q":1.54,"lo":1.70,"hi":2.60},
      {"q":1.92,"lo":0.05,"hi":3.90},{"q":2.03,"lo":0.05,"hi":6.30},{"q":2.15,"lo":0.05,"hi":6.30},{"q":2.27,"lo":0.05,"hi":6.10},{"q":2.39,"lo":0.05,"hi":6.00},{"q":2.50,"lo":0.05,"hi":6.30},{"q":2.63,"lo":0.05,"hi":6.10},{"q":2.74,"lo":0.05,"hi":6.30},{"q":2.86,"lo":0.05,"hi":6.40},{"q":2.98,"lo":0.05,"hi":6.20},{"q":3.10,"lo":0.05,"hi":6.50},{"q":3.21,"lo":0.05,"hi":6.60},{"q":3.29,"lo":0.05,"hi":6.40}
    ],
    "labD": [
      {"q":3.33,"I":9.30,"t":"[Chol:PC]"},{"q":3.19,"I":5.75,"t":"ng/ml"},{"q":3.18,"I":3.90,"t":"µg/ml"},{"q":3.25,"I":1.40,"t":"mg/ml"}
    ]
  },
  "vconcat": [
    {
      "hconcat": [
        {
          "width": 280, "height": 418,
          "layer": [
            {"data": {"name": "errA"}, "mark": {"type": "rule", "color": "#707070", "strokeWidth": 1, "clip": true},
             "encoding": {
               "x": {"field": "q", "type": "quantitative", "scale": {"domain": [0, 3.48], "nice": false, "zero": false}, "axis": {"orient": "top", "values": [0.5, 1, 1.5, 2, 2.5, 3], "labels": false, "title": null, "tickSize": -5}},
               "y": {"field": "lo", "type": "quantitative", "scale": {"domain": [0, 12.54], "nice": false, "zero": false}, "axis": {"orient": "right", "values": [1.31, 3.83, 6.33, 8.85, 11.33], "labels": false, "title": null, "tickSize": -5}},
               "y2": {"field": "hi"}}},
            {"data": {"name": "ptsA"}, "mark": {"type": "point", "shape": "circle", "filled": false, "stroke": "#444444", "strokeWidth": 0.9, "size": 28, "opacity": 1, "clip": true},
             "encoding": {"x": {"field": "q", "type": "quantitative", "axis": null}, "y": {"field": "I", "type": "quantitative", "axis": null}}},
            {"data": {"name": "fitA"}, "mark": {"type": "line", "color": "#ee1d1d", "strokeWidth": 2, "clip": true},
             "encoding": {
               "x": {"field": "q", "type": "quantitative", "axis": {"orient": "bottom", "values": [0, 0.5, 1, 1.5, 2, 2.5, 3], "labelExpr": "datum.value % 1 == 0 ? format(datum.value, 'd') : ''", "title": null, "tickSize": -5, "labelPadding": 8}},
               "y": {"field": "I", "type": "quantitative", "axis": {"orient": "left", "values": [1.31, 3.83, 6.33, 8.85, 11.33], "labels": false, "tickSize": 5, "title": "I(q) [arb. u.]", "titlePadding": 14}},
               "detail": {"field": "c"}}},
            {"data": {"name": "labA"}, "mark": {"type": "text", "font": "Liberation Sans", "fontWeight": "bold", "fontSize": 15, "align": "right", "baseline": "middle", "color": "#1a1a1a"},
             "encoding": {"x": {"field": "q", "type": "quantitative", "axis": null}, "y": {"field": "I", "type": "quantitative", "axis": null}, "text": {"field": "t"}}},
            {"data": {"values": [{"q": 3.16, "I": 11.68, "t": "(A)"}]}, "mark": {"type": "text", "font": "Liberation Serif", "fontSize": 22, "align": "center", "baseline": "middle", "color": "#1a1a1a"},
             "encoding": {"x": {"field": "q", "type": "quantitative", "axis": null}, "y": {"field": "I", "type": "quantitative", "axis": null}, "text": {"field": "t"}}}
          ],
          "resolve": {"axis": {"x": "independent", "y": "independent"}}
        },
        {
          "width": 276, "height": 418,
          "layer": [
            {"data": {"name": "errC"}, "mark": {"type": "rule", "color": "#707070", "strokeWidth": 1, "clip": true},
             "encoding": {
               "x": {"field": "q", "type": "quantitative", "scale": {"domain": [0.025, 3.475], "nice": false, "zero": false}, "axis": {"orient": "top", "values": [0.5, 1, 1.5, 2, 2.5, 3], "labels": false, "title": null, "tickSize": -5}},
               "y": {"field": "lo", "type": "quantitative", "scale": {"domain": [0, 12.55], "nice": false, "zero": false}, "axis": {"orient": "right", "values": [2.20, 4.40, 6.58, 8.77, 10.97], "labels": false, "title": null, "tickSize": -5}},
               "y2": {"field": "hi"}}},
            {"data": {"name": "ptsC"}, "mark": {"type": "point", "shape": "circle", "filled": false, "stroke": "#444444", "strokeWidth": 0.9, "size": 28, "opacity": 1, "clip": true},
             "encoding": {"x": {"field": "q", "type": "quantitative", "axis": null}, "y": {"field": "I", "type": "quantitative", "axis": null}}},
            {"data": {"name": "fitC"}, "mark": {"type": "line", "color": "#ee1d1d", "strokeWidth": 2, "clip": true},
             "encoding": {
               "x": {"field": "q", "type": "quantitative", "axis": {"orient": "bottom", "values": [0.5, 1, 1.5, 2, 2.5, 3], "labelExpr": "datum.value % 1 == 0 ? format(datum.value, 'd') : ''", "title": null, "tickSize": -5, "labelPadding": 8}},
               "y": {"field": "I", "type": "quantitative", "axis": {"orient": "left", "values": [2.20, 4.40, 6.58, 8.77, 10.97], "labels": false, "tickSize": 5, "title": null}},
               "detail": {"field": "c"}}},
            {"data": {"name": "labC"}, "mark": {"type": "text", "font": "Liberation Sans", "fontWeight": "bold", "fontSize": 15, "align": "right", "baseline": "middle", "color": "#1a1a1a"},
             "encoding": {"x": {"field": "q", "type": "quantitative", "axis": null}, "y": {"field": "I", "type": "quantitative", "axis": null}, "text": {"field": "t"}}},
            {"data": {"values": [{"q": 3.18, "I": 11.60, "t": "(C)"}]}, "mark": {"type": "text", "font": "Liberation Serif", "fontSize": 22, "align": "center", "baseline": "middle", "color": "#1a1a1a"},
             "encoding": {"x": {"field": "q", "type": "quantitative", "axis": null}, "y": {"field": "I", "type": "quantitative", "axis": null}, "text": {"field": "t"}}}
          ],
          "resolve": {"axis": {"x": "independent", "y": "independent"}}
        }
      ],
      "spacing": 21
    },
    {
      "hconcat": [
        {
          "width": 280, "height": 418,
          "layer": [
            {"data": {"name": "errB"}, "mark": {"type": "rule", "color": "#707070", "strokeWidth": 1, "clip": true},
             "encoding": {
               "x": {"field": "q", "type": "quantitative", "scale": {"domain": [0, 3.48], "nice": false, "zero": false}, "axis": {"orient": "top", "values": [0.5, 1, 1.5, 2, 2.5, 3], "labels": false, "title": null, "tickSize": -5}},
               "y": {"field": "lo", "type": "quantitative", "scale": {"domain": [0, 12.54], "nice": false, "zero": false}, "axis": {"orient": "right", "values": [1.10, 3.85, 6.58, 9.33, 12.05], "labels": false, "title": null, "tickSize": -5}},
               "y2": {"field": "hi"}}},
            {"data": {"name": "ptsB"}, "mark": {"type": "point", "shape": "circle", "filled": false, "stroke": "#444444", "strokeWidth": 0.9, "size": 28, "opacity": 1, "clip": true},
             "encoding": {"x": {"field": "q", "type": "quantitative", "axis": null}, "y": {"field": "I", "type": "quantitative", "axis": null}}},
            {"data": {"name": "fitB"}, "mark": {"type": "line", "color": "#ee1d1d", "strokeWidth": 2, "clip": true},
             "encoding": {
               "x": {"field": "q", "type": "quantitative", "axis": {"orient": "bottom", "values": [0.5, 1, 1.5, 2, 2.5, 3], "labelExpr": "datum.value % 1 == 0 ? format(datum.value, 'd') : ''", "title": "q [nm⁻¹]", "titlePadding": 32, "tickSize": -5, "labelPadding": 8}},
               "y": {"field": "I", "type": "quantitative", "axis": {"orient": "left", "values": [1.10, 3.85, 6.58, 9.33, 12.05], "labels": false, "tickSize": 5, "title": "I(q) [arb. u.]", "titlePadding": 14}},
               "detail": {"field": "c"}}},
            {"data": {"name": "labB"}, "mark": {"type": "text", "font": "Liberation Sans", "fontWeight": "bold", "fontSize": 15, "align": "right", "baseline": "middle", "color": "#1a1a1a"},
             "encoding": {"x": {"field": "q", "type": "quantitative", "axis": null}, "y": {"field": "I", "type": "quantitative", "axis": null}, "text": {"field": "t"}}},
            {"data": {"values": [{"q": 3.15, "I": 11.60, "t": "(B)"}]}, "mark": {"type": "text", "font": "Liberation Serif", "fontSize": 22, "align": "center", "baseline": "middle", "color": "#1a1a1a"},
             "encoding": {"x": {"field": "q", "type": "quantitative", "axis": null}, "y": {"field": "I", "type": "quantitative", "axis": null}, "text": {"field": "t"}}}
          ],
          "resolve": {"axis": {"x": "independent", "y": "independent"}}
        },
        {
          "width": 276, "height": 418,
          "layer": [
            {"data": {"name": "errD"}, "mark": {"type": "rule", "color": "#707070", "strokeWidth": 1, "clip": true},
             "encoding": {
               "x": {"field": "q", "type": "quantitative", "scale": {"domain": [0.025, 3.475], "nice": false, "zero": false}, "axis": {"orient": "top", "values": [0.5, 1, 1.5, 2, 2.5, 3], "labels": false, "title": null, "tickSize": -5}},
               "y": {"field": "lo", "type": "quantitative", "scale": {"domain": [0, 12.54], "nice": false, "zero": false}, "axis": {"orient": "right", "values": [1.52, 3.82, 6.08, 8.35, 10.62], "labels": false, "title": null, "tickSize": -5}},
               "y2": {"field": "hi"}}},
            {"data": {"name": "ptsD"}, "mark": {"type": "point", "shape": "circle", "filled": false, "stroke": "#444444", "strokeWidth": 0.9, "size": 28, "opacity": 1, "clip": true},
             "encoding": {"x": {"field": "q", "type": "quantitative", "axis": null}, "y": {"field": "I", "type": "quantitative", "axis": null}}},
            {"data": {"name": "fitD"}, "mark": {"type": "line", "color": "#ee1d1d", "strokeWidth": 2, "clip": true},
             "encoding": {
               "x": {"field": "q", "type": "quantitative", "axis": {"orient": "bottom", "values": [0.5, 1, 1.5, 2, 2.5, 3], "labelExpr": "datum.value % 1 == 0 ? format(datum.value, 'd') : ''", "title": "q [nm⁻¹]", "titlePadding": 32, "tickSize": -5, "labelPadding": 8}},
               "y": {"field": "I", "type": "quantitative", "axis": {"orient": "left", "values": [1.52, 3.82, 6.08, 8.35, 10.62], "labels": false, "tickSize": 5, "title": null}},
               "detail": {"field": "c"}}},
            {"data": {"name": "labD"}, "mark": {"type": "text", "font": "Liberation Sans", "fontWeight": "bold", "fontSize": 15, "align": "right", "baseline": "middle", "color": "#1a1a1a"},
             "encoding": {"x": {"field": "q", "type": "quantitative", "axis": null}, "y": {"field": "I", "type": "quantitative", "axis": null}, "text": {"field": "t"}}},
            {"data": {"values": [{"q": 3.19, "I": 11.60, "t": "(D)"}]}, "mark": {"type": "text", "font": "Liberation Serif", "fontSize": 22, "align": "center", "baseline": "middle", "color": "#1a1a1a"},
             "encoding": {"x": {"field": "q", "type": "quantitative", "axis": null}, "y": {"field": "I", "type": "quantitative", "axis": null}, "text": {"field": "t"}}}
          ],
          "resolve": {"axis": {"x": "independent", "y": "independent"}}
        }
      ],
      "spacing": 21
    }
  ],
  "spacing": 20
}
